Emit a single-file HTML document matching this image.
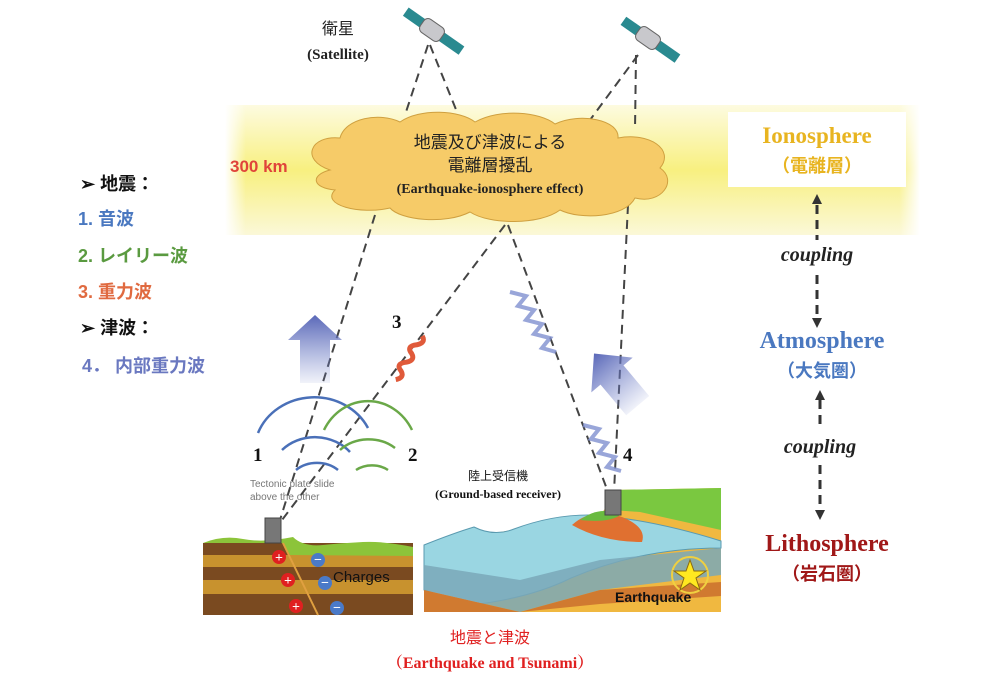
<!DOCTYPE html>
<html><head><meta charset="utf-8"><style>
html,body{margin:0;padding:0;background:#fff;}
svg{display:block;}
text{font-family:"Liberation Serif","Noto Serif CJK SC","Noto Sans CJK JP",serif;}
.s{font-family:"Liberation Sans","Noto Sans CJK JP",sans-serif;}
</style></head><body>
<svg width="1000" height="692" viewBox="0 0 1000 692" xmlns="http://www.w3.org/2000/svg">
<defs>
<linearGradient id="band" x1="0" y1="0" x2="0" y2="1">
<stop offset="0" stop-color="#fdfbe0"/><stop offset="0.5" stop-color="#f8f080"/><stop offset="1" stop-color="#fbf8d8"/>
</linearGradient>
<linearGradient id="bandh" x1="0" y1="0" x2="1" y2="0">
<stop offset="0" stop-color="#fff" stop-opacity="1"/><stop offset="0.03" stop-color="#fff" stop-opacity="0"/><stop offset="0.97" stop-color="#fff" stop-opacity="0"/><stop offset="1" stop-color="#fff" stop-opacity="1"/>
</linearGradient>
<linearGradient id="arr" x1="0" y1="1" x2="0" y2="0">
<stop offset="0" stop-color="#7080c8" stop-opacity="0.1"/><stop offset="1" stop-color="#5a68b8"/>
</linearGradient>
</defs>
<rect width="1000" height="692" fill="#fff"/>
<rect x="225" y="105" width="695" height="130" fill="url(#band)"/>
<rect x="225" y="105" width="695" height="130" fill="url(#bandh)"/>
<rect x="728" y="112" width="178" height="75" fill="#fff"/>
<text x="817" y="143" text-anchor="middle" font-size="23" font-weight="bold" fill="#e8b420">Ionosphere</text>
<text x="817" y="172" text-anchor="middle" font-size="18" font-weight="bold" fill="#e8b420" class="s">（電離層）</text>

<!-- dashed lines -->
<g stroke="#444" stroke-width="2" stroke-dasharray="9,6" fill="none">
<line x1="428" y1="45" x2="405" y2="115"/>
<line x1="430" y1="45" x2="457" y2="112"/>
<line x1="638" y1="55" x2="590" y2="120"/>
<line x1="636" y1="55" x2="635" y2="130"/>
<line x1="375" y1="215" x2="280" y2="520"/>
<line x1="505" y1="225" x2="282" y2="520"/>
<line x1="508" y1="225" x2="608" y2="492"/>
<line x1="628" y1="205" x2="614" y2="492"/>
</g>

<!-- cloud -->
<path d="M330,170 C300,160 310,135 340,138 C345,118 380,112 400,122 C420,108 460,110 475,122 C500,108 540,112 555,124 C580,112 620,120 618,138 C650,132 675,150 660,168 C678,180 662,205 635,198 C625,218 580,220 560,210 C540,225 490,225 470,212 C445,225 400,220 390,208 C360,215 320,205 335,190 C312,188 310,175 330,170 Z" fill="#f6cb68" stroke="#cfa040" stroke-width="1"/>
<text x="490" y="148" text-anchor="middle" font-size="17" class="s" fill="#222">地震及び津波による</text>
<text x="490" y="171" text-anchor="middle" font-size="17" class="s" fill="#222">電離層擾乱</text>
<text x="490" y="193" text-anchor="middle" font-size="14" font-weight="bold" fill="#222">(Earthquake-ionosphere effect)</text>

<text x="230" y="172" font-size="17" font-weight="bold" fill="#e0443a" class="s">300 km</text>
<text x="338" y="34" text-anchor="middle" font-size="16" class="s" fill="#222">衛星</text>
<text x="338" y="59" text-anchor="middle" font-size="15" font-weight="bold" fill="#222">(Satellite)</text>

<!-- satellites -->
<g transform="translate(432,30) rotate(35)">
<rect x="-32" y="-5" width="20" height="10" fill="#2a8a90"/><rect x="12" y="-5" width="24" height="10" fill="#2a8a90"/>
<rect x="-12" y="-8" width="24" height="16" rx="5" fill="#c8c8cc" stroke="#666"/></g>
<g transform="translate(648,38) rotate(35)">
<rect x="-30" y="-5" width="18" height="10" fill="#2a8a90"/><rect x="12" y="-5" width="24" height="10" fill="#2a8a90"/>
<rect x="-12" y="-8" width="24" height="16" rx="5" fill="#c8c8cc" stroke="#666"/></g>

<!-- left list -->
<text x="80" y="190" font-size="18" font-weight="bold" class="s" fill="#111">➢  地震：</text>
<text x="78" y="225" font-size="18" font-weight="bold" class="s" fill="#4a78c0">1.  音波</text>
<text x="78" y="262" font-size="18" font-weight="bold" class="s" fill="#5a9a40">2.  レイリー波</text>
<text x="78" y="298" font-size="18" font-weight="bold" class="s" fill="#e06a40">3.  重力波</text>
<text x="80" y="334" font-size="18" font-weight="bold" class="s" fill="#111">➢  津波：</text>
<text x="82" y="372" font-size="18" font-weight="bold" class="s" fill="#6a78c0">4．  内部重力波</text>

<!-- up arrows -->
<path d="M300,383 L300,340 L288,340 L315,315 L342,340 L330,340 L330,383 Z" fill="url(#arr)"/>
<g transform="translate(612,375) rotate(-40)"><path d="M-15,40 L-15,0 L-27,0 L0,-28 L27,0 L15,0 L15,40 Z" fill="url(#arr)"/></g>

<!-- waves -->
<path d="M405,383 q8,-5 2,-10 q-8,-5 2,-10 q8,-5 2,-10 q-8,-5 2,-10 q8,-5 2,-10" stroke="#e05a3a" stroke-width="5" fill="none" transform="rotate(20 410 355)"/>
<path d="M510,292 l16,4 l-8,10 l16,4 l-8,10 l16,4 l-8,10 l16,4 l-8,10 l14,4" stroke="#8090d0" stroke-width="4" fill="none" opacity="0.8"/>
<path d="M583,425 l16,4 l-8,10 l16,4 l-8,10 l16,4 l-8,10 l14,4" stroke="#8090d0" stroke-width="4" fill="none" opacity="0.8"/>
<text x="392" y="328" font-size="19" font-weight="bold" fill="#111">3</text>
<text x="253" y="461" font-size="19" font-weight="bold" fill="#111">1</text>
<text x="408" y="461" font-size="19" font-weight="bold" fill="#111">2</text>
<text x="623" y="461" font-size="19" font-weight="bold" fill="#111">4</text>

<!-- arcs -->
<g fill="none" stroke-width="2.5">
<path d="M258,433 A60,55 0 0 1 368,428" stroke="#4a70b8"/>
<path d="M282,450 A45,40 0 0 1 350,452" stroke="#4a70b8"/>
<path d="M296,470 A30,25 0 0 1 338,470" stroke="#4a70b8"/>
<path d="M324,430 A50,55 0 0 1 412,430" stroke="#6aa848"/>
<path d="M340,450 A40,35 0 0 1 395,448" stroke="#6aa848"/>
<path d="M356,470 A25,20 0 0 1 388,470" stroke="#6aa848"/>
</g>
<text x="250" y="487" font-size="10" class="s" fill="#777">Tectonic plate slide</text>
<text x="250" y="500" font-size="10" class="s" fill="#777">above the other</text>

<!-- left ground -->
<rect x="203" y="543" width="210" height="72" fill="#7a4a20"/>
<rect x="203" y="555" width="210" height="12" fill="#c8922e"/>
<rect x="203" y="580" width="210" height="14" fill="#c8922e"/>
<path d="M203,543 q20,-8 40,-4 t50,-2 q10,10 30,8 t40,-3 t50,5 L413,556 L290,555 L282,543 Z" fill="#8cc43a"/>
<line x1="283" y1="543" x2="318" y2="615" stroke="#e0a040" stroke-width="2"/>
<rect x="265" y="518" width="16" height="25" fill="#777" stroke="#444"/>
<g class="s" font-size="14" font-weight="bold" fill="#fff" text-anchor="middle">
<circle cx="279" cy="557" r="7" fill="#e02020"/><text x="279" y="562">+</text>
<circle cx="288" cy="580" r="7" fill="#e02020"/><text x="288" y="585">+</text>
<circle cx="296" cy="606" r="7" fill="#e02020"/><text x="296" y="611">+</text>
<circle cx="318" cy="560" r="7" fill="#4a7ac8"/><text x="318" y="564">−</text>
<circle cx="325" cy="583" r="7" fill="#4a7ac8"/><text x="325" y="587">−</text>
<circle cx="337" cy="608" r="7" fill="#4a7ac8"/><text x="337" y="612">−</text>
</g>
<text x="333" y="582" font-size="15" class="s" fill="#111">Charges</text>

<!-- right ground -->
<text x="498" y="480" text-anchor="middle" font-size="12" class="s" fill="#111">陸上受信機</text>
<text x="498" y="498" text-anchor="middle" font-size="12" font-weight="bold" fill="#111">(Ground-based receiver)</text>
<path d="M424,612 L424,545 L600,515 L612,500 L612,490 L721,488 L721,612 Z" fill="#f0b840"/>
<path d="M612,490 L721,488 L721,530 L640,512 L612,510 Z" fill="#7ac840"/>
<path d="M424,565 L424,545 q30,-12 50,-18 q20,10 40,2 q40,-15 80,-14 q60,5 127,26 L721,548 q-80,0 -150,30 q-40,20 -100,27 L424,590 Z" fill="#9ad6e2" stroke="#5a9ab0"/>
<path d="M424,565 L520,580 L600,560 L721,548 L721,575 L600,590 L520,612 L424,590 Z" fill="#7aa8b8" opacity="0.85"/>
<path d="M424,590 L520,612 L424,612 Z" fill="#d07a30"/>
<path d="M520,612 L600,590 L721,582 L721,596 L600,604 Z" fill="#d07a30"/>
<path d="M572,525 q20,-18 50,-8 q25,10 20,25 q-40,0 -70,-17 Z" fill="#e07030"/>
<path d="M580,520 q20,-15 40,-5 q-10,8 -40,5 Z" fill="#6aba40"/>
<rect x="605" y="490" width="16" height="25" fill="#777" stroke="#444"/>
<circle cx="690" cy="575" r="18" fill="none" stroke="#f0d040" stroke-width="2"/>
<polygon points="690,560 694,571 706,571 696,578 700,590 690,583 680,590 684,578 674,571 686,571" fill="#ffe820" stroke="#8a6a10"/>
<text x="615" y="602" font-size="14" font-weight="bold" class="s" fill="#111">Earthquake</text>

<text x="490" y="643" text-anchor="middle" font-size="16" class="s" fill="#e02020">地震と津波</text>
<text x="490" y="668" text-anchor="middle" font-size="16" font-weight="bold" fill="#e02020">（Earthquake and Tsunami）</text>

<!-- right column -->
<g stroke="#333" stroke-width="3" stroke-dasharray="9,6">
<line x1="817" y1="205" x2="817" y2="240"/><line x1="817" y1="275" x2="817" y2="318"/>
<line x1="820" y1="400" x2="820" y2="425"/><line x1="820" y1="465" x2="820" y2="510"/>
</g>
<polygon points="812,204 822,204 817,194" fill="#333"/>
<polygon points="812,318 822,318 817,328" fill="#333"/>
<polygon points="815,400 825,400 820,390" fill="#333"/>
<polygon points="815,510 825,510 820,520" fill="#333"/>
<text x="817" y="261" text-anchor="middle" font-size="20" font-style="italic" font-weight="bold" fill="#222">coupling</text>
<text x="820" y="453" text-anchor="middle" font-size="20" font-style="italic" font-weight="bold" fill="#222">coupling</text>
<text x="822" y="348" text-anchor="middle" font-size="24" font-weight="bold" fill="#4a78c0">Atmosphere</text>
<text x="822" y="377" text-anchor="middle" font-size="18" font-weight="bold" class="s" fill="#4a78c0">（大気圏）</text>
<text x="827" y="551" text-anchor="middle" font-size="24" font-weight="bold" fill="#a01818">Lithosphere</text>
<text x="827" y="580" text-anchor="middle" font-size="18" font-weight="bold" class="s" fill="#a01818">（岩石圏）</text>
</svg>
</body></html>
